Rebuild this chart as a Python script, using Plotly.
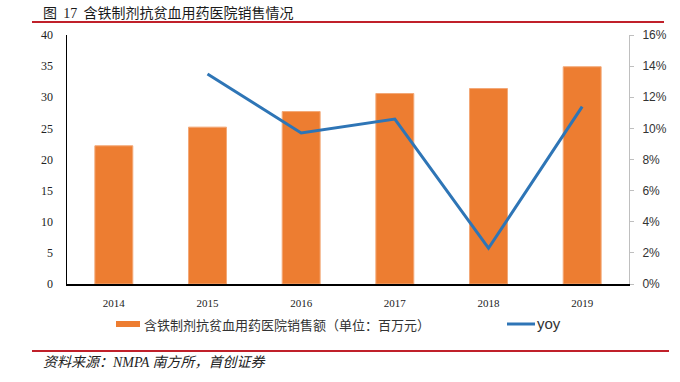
import plotly.graph_objects as go

years = ["2014", "2015", "2016", "2017", "2018", "2019"]
sales = [22.2, 25.2, 27.7, 30.6, 31.4, 34.9]
yoy = [None, 0.135, 0.097, 0.106, 0.023, 0.114]
left_ticks = [0, 5, 10, 15, 20, 25, 30, 35, 40]
right_ticks = [0, 0.02, 0.04, 0.06, 0.08, 0.10, 0.12, 0.14, 0.16]

bar_name = "含铁制剂抗贫血用药医院销售额（单位：百万元）"
line_name = "yoy"
title_prefix = "图"
title_number = "17"
title_main = "含铁制剂抗贫血用药医院销售情况"
source_text = "资料来源：NMPA 南方所，首创证券"

ORANGE = "#ED7D31"
BLUE = "#2E75B6"
RED = "#C0202A"
CJK = "Noto Sans CJK SC, Liberation Sans, sans-serif"
SERIF = "Liberation Serif, Noto Sans CJK SC, serif"

fig = go.Figure()
fig.add_trace(go.Bar(
    x=years, y=sales, name=bar_name, width=0.405,
    marker=dict(color=ORANGE, line=dict(color="#F3A877", width=1)),
    showlegend=False,
))
fig.add_trace(go.Scatter(
    x=years, y=yoy, name=line_name, yaxis="y2", mode="lines",
    line=dict(color=BLUE, width=3), showlegend=False, connectgaps=False,
))

# plot-area geometry in pixels (for paper-coordinate decorations)
L, R, T, B = 67, 629, 35, 284
W, H = R - L, B - T

def px(x):
    return (x - L) / W

def py(y):
    return (B - y) / H

shapes = [
    dict(type="line", xref="paper", yref="paper", x0=px(32), x1=px(664), y0=py(22), y1=py(22),
         line=dict(color=RED, width=2)),
    dict(type="line", xref="paper", yref="paper", x0=px(32), x1=px(669), y0=py(351), y1=py(351),
         line=dict(color=RED, width=2)),
    dict(type="rect", xref="paper", yref="paper", x0=px(116), x1=px(140), y0=py(327), y1=py(321),
         fillcolor=ORANGE, line=dict(width=0)),
    dict(type="line", xref="paper", yref="paper", x0=px(507), x1=px(535), y0=py(324), y1=py(324),
         line=dict(color=BLUE, width=3)),
]

title_html = (title_prefix + "&nbsp;&nbsp;"
              + "<span style='font-family:Liberation Serif'>" + title_number + "</span>"
              + "&nbsp;&nbsp;" + title_main)

annotations = [
    dict(text=title_html, xref="paper", yref="paper", x=px(41), y=py(12), xanchor="left", yanchor="middle",
         showarrow=False, font=dict(family=CJK, size=14, color="#1a1a1a")),
    dict(text=bar_name, xref="paper", yref="paper", x=px(142), y=py(324), xanchor="left", yanchor="middle",
         showarrow=False, font=dict(family=CJK, size=13, color="#333333")),
    dict(text=line_name, xref="paper", yref="paper", x=px(535), y=py(323), xanchor="left", yanchor="middle",
         showarrow=False, font=dict(family="Liberation Sans, sans-serif", size=15, color="#333333")),
    dict(text="<i>" + source_text + "</i>", xref="paper", yref="paper", x=px(41), y=py(362),
         xanchor="left", yanchor="middle", showarrow=False,
         font=dict(family=SERIF, size=14, color="#222222")),
]

fig.update_layout(
    width=680, height=382,
    margin=dict(l=L, r=680 - R, t=T, b=382 - B, pad=0),
    paper_bgcolor="white", plot_bgcolor="white",
    bargap=0.6,
    xaxis=dict(
        type="category", showgrid=False, showline=True, linecolor="black", linewidth=1.5,
        ticks="", tickfont=dict(family=SERIF, size=11, color="#222222"),
        ticklabelstandoff=8, zeroline=False,
    ),
    yaxis=dict(
        range=[0, 40], tickvals=left_ticks, showgrid=False, zeroline=False,
        showline=True, linecolor="black", linewidth=1.5, ticks="",
        tickfont=dict(family=SERIF, size=12, color="#222222"), ticklabelstandoff=10,
    ),
    yaxis2=dict(
        range=[0, 0.16], tickvals=right_ticks, tickformat=".0%", overlaying="y", side="right",
        showgrid=False, zeroline=False, showline=True, linecolor="#BFBFBF", linewidth=1,
        ticks="outside", ticklen=4, tickcolor="#BFBFBF",
        tickfont=dict(family="Liberation Sans, sans-serif", size=12, color="#333333"),
        ticklabelstandoff=6,
    ),
    shapes=shapes,
    annotations=annotations,
    showlegend=False,
)

fig.write_html(
    "out.html",
    config={"displayModeBar": False, "staticPlot": True},
    post_script="document.body.style.margin='0px'; document.body.style.overflow='hidden';",
)
